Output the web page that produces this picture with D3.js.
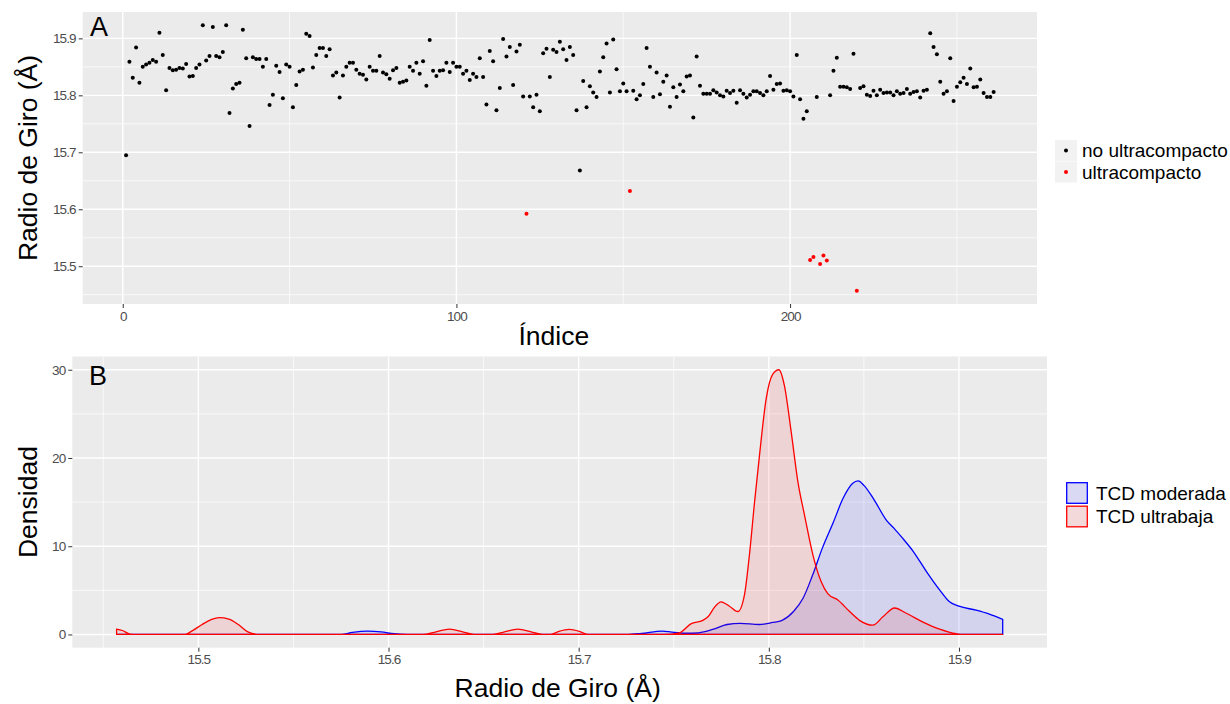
<!DOCTYPE html>
<html>
<head>
<meta charset="utf-8">
<script src="https://cdn.jsdelivr.net/npm/d3@7"></script>
<style>
  body { margin: 0; background: #fff; }
  svg { font-family: "Liberation Sans", Arial, sans-serif; }
</style>
</head>
<body>
<script>
// Radio de giro por frame (indice 1..261)
const radio = [
  15.695, 15.859, 15.831, 15.884, 15.822, 15.850, 15.854, 15.857, 15.862, 15.859,
  15.910, 15.871, 15.809, 15.848, 15.844, 15.845, 15.848, 15.847, 15.855, 15.833,
  15.834, 15.848, 15.854, 15.923, 15.861, 15.869, 15.920, 15.869, 15.867, 15.876,
  15.923, 15.769, 15.812, 15.820, 15.822, 15.915, 15.865, 15.746, 15.867, 15.864,
  15.864, 15.850, 15.864, 15.783, 15.801, 15.852, 15.841, 15.795, 15.854, 15.850,
  15.779, 15.818, 15.842, 15.845, 15.908, 15.904, 15.849, 15.871, 15.883, 15.883,
  15.869, 15.881, 15.835, 15.840, 15.796, 15.835, 15.850, 15.857, 15.857, 15.845,
  15.838, 15.836, 15.828, 15.850, 15.843, 15.843, 15.869, 15.840, 15.837, 15.829,
  15.844, 15.848, 15.822, 15.824, 15.826, 15.850, 15.843, 15.857, 15.838, 15.860,
  15.817, 15.897, 15.843, 15.834, 15.843, 15.844, 15.857, 15.841, 15.857, 15.850,
  15.850, 15.838, 15.843, 15.827, 15.838, 15.832, 15.865, 15.832, 15.784, 15.878,
  15.860, 15.774, 15.813, 15.899, 15.868, 15.885, 15.818, 15.877, 15.889, 15.798,
  15.592, 15.798, 15.779, 15.801, 15.772, 15.874, 15.882, 15.832, 15.880, 15.876,
  15.894, 15.881, 15.862, 15.885, 15.871, 15.774, 15.668, 15.825, 15.779, 15.816,
  15.805, 15.797, 15.842, 15.867, 15.891, 15.805, 15.898, 15.846, 15.807, 15.821,
  15.807, 15.632, 15.808, 15.793, 15.800, 15.820, 15.883, 15.850, 15.797, 15.840,
  15.802, 15.824, 15.835, 15.780, 15.814, 15.797, 15.819, 15.807, 15.833, 15.835,
  15.761, 15.868, 15.817, 15.803, 15.803, 15.803, 15.809, 15.805, 15.800, 15.798,
  15.808, 15.804, 15.808, 15.787, 15.809, 15.803, 15.796, 15.801, 15.807, 15.807,
  15.804, 15.800, 15.807, 15.834, 15.810, 15.820, 15.821, 15.808, 15.809, 15.807,
  15.798, 15.871, 15.793, 15.759, 15.772, 15.511, 15.516, 15.797, 15.504, 15.519,
  15.510, 15.800, 15.843, 15.866, 15.815, 15.815, 15.814, 15.811, 15.873, 15.457,
  15.813, 15.816, 15.801, 15.799, 15.808, 15.800, 15.810, 15.804, 15.805, 15.805,
  15.800, 15.807, 15.803, 15.804, 15.811, 15.803, 15.806, 15.807, 15.796, 15.808,
  15.810, 15.909, 15.885, 15.872, 15.824, 15.803, 15.807, 15.865, 15.790, 15.815,
  15.823, 15.831, 15.820, 15.847, 15.814, 15.815, 15.828, 15.804, 15.797, 15.797,
  15.806
];
// indices marcados como ultracompactos
const ultraIdx = [121, 152, 206, 207, 209, 210, 211, 220];
const claseNombres = ["no ultracompacto", "ultracompacto"];
const claseColores = ["#000000", "#ff0000"];

// curvas de densidad
const densModX = [15.457, 15.575, 15.581, 15.589, 15.596, 15.603, 15.610, 15.725, 15.733, 15.744,
  15.749, 15.756, 15.763, 15.771, 15.778, 15.785, 15.795, 15.802, 15.807, 15.813,
  15.818, 15.823, 15.828, 15.834, 15.839, 15.844, 15.847, 15.850, 15.855, 15.862,
  15.866, 15.870, 15.876, 15.883, 15.890, 15.895, 15.900, 15.909, 15.916, 15.923];
const densModY = [0, 0, 0.23, 0.38, 0.30, 0.08, 0, 0, 0.12, 0.38,
  0.26, 0.15, 0.19, 0.60, 1.13, 1.25, 1.13, 1.36, 1.60, 2.60,
  4.10, 6.70, 9.70, 12.75, 15.40, 17.10, 17.40, 16.90, 15.40, 12.90,
  12.0, 11.0, 9.40, 7.10, 5.00, 3.70, 3.20, 2.75, 2.30, 1.70];

const densUltX = [15.457, 15.460, 15.464, 15.468, 15.493, 15.4965, 15.502, 15.507, 15.511, 15.516,
  15.521, 15.526, 15.532, 15.618, 15.625, 15.632, 15.639, 15.645, 15.655, 15.661,
  15.668, 15.675, 15.681, 15.685, 15.689, 15.695, 15.701, 15.705, 15.745, 15.753,
  15.759, 15.7653, 15.768, 15.7715, 15.7749, 15.7793, 15.7837, 15.7872, 15.7898, 15.7925,
  15.7951, 15.7986, 15.8021, 15.8053, 15.8082, 15.8118, 15.8153, 15.8188, 15.8232, 15.8275,
  15.8311, 15.8363, 15.8425, 15.8477, 15.8547, 15.8600, 15.8661, 15.8723, 15.8811, 15.8898,
  15.8986, 15.9021, 15.923];
const densUltY = [0.6, 0.45, 0.05, 0, 0, 0.38, 1.13, 1.70, 1.90, 1.74,
  1.13, 0.30, 0, 0, 0.30, 0.60, 0.30, 0, 0, 0.30,
  0.60, 0.30, 0, 0, 0.30, 0.57, 0.30, 0, 0, 0.19,
  1.20, 1.60, 2.00, 3.10, 3.70, 3.20, 2.60, 4.50, 9.00, 15.00,
  20.30, 26.70, 29.50, 30.00, 28.20, 22.90, 17.30, 13.50, 9.00, 6.00,
  4.60, 3.90, 2.60, 1.60, 1.05, 2.00, 3.00, 2.40, 1.40, 0.60,
  0.08, 0, 0];
const grupoNombres = ["TCD moderada", "TCD ultrabaja"];
const grupoColores = ["#0000ff", "#ff0000"];

const ticksA_x = [0, 100, 200];
const ticksA_y = [15.5, 15.6, 15.7, 15.8, 15.9];
const ticksB_x = [15.5, 15.6, 15.7, 15.8, 15.9];
const ticksB_y = [0, 10, 20, 30];

const W = 1230, H = 704;
const panelBg = "#ebebeb";
const titleSize = 26.5;
const legendSize = 19;

const svg = d3.select("body").append("svg")
  .attr("width", W)
  .attr("height", H);

// ggplot style 5% expansion
function expand(ext, f = 0.05) {
  const d = (ext[1] - ext[0]) * f;
  return [ext[0] - d, ext[1] + d];
}

// draw a gray panel with white grid and the two axes
function panel(x, y, majX, minX, majY, minY, box) {
  svg.append("rect")
    .attr("x", box.l).attr("y", box.t)
    .attr("width", box.r - box.l).attr("height", box.b - box.t)
    .attr("fill", panelBg);
  const g = svg.append("g");
  g.selectAll("line.minx").data(minX).enter().append("line")
    .attr("x1", d => x(d)).attr("x2", d => x(d))
    .attr("y1", box.t).attr("y2", box.b)
    .attr("stroke", "#fff").attr("stroke-width", 0.7);
  g.selectAll("line.miny").data(minY).enter().append("line")
    .attr("y1", d => y(d)).attr("y2", d => y(d))
    .attr("x1", box.l).attr("x2", box.r)
    .attr("stroke", "#fff").attr("stroke-width", 0.7);
  g.selectAll("line.majx").data(majX).enter().append("line")
    .attr("x1", d => x(d)).attr("x2", d => x(d))
    .attr("y1", box.t).attr("y2", box.b)
    .attr("stroke", "#fff").attr("stroke-width", 1.4);
  g.selectAll("line.majy").data(majY).enter().append("line")
    .attr("y1", d => y(d)).attr("y2", d => y(d))
    .attr("x1", box.l).attr("x2", box.r)
    .attr("stroke", "#fff").attr("stroke-width", 1.4);

  // axes
  const ax = svg.append("g").attr("transform", `translate(0,${box.b})`)
    .call(d3.axisBottom(x).tickValues(majX).tickSize(4).tickPadding(3).tickFormat(d3.format("")));
  const ay = svg.append("g").attr("transform", `translate(${box.l},0)`)
    .call(d3.axisLeft(y).tickValues(majY).tickSize(4).tickPadding(3).tickFormat(d3.format("")));
  [ax, ay].forEach(a => {
    a.select(".domain").remove();
    a.selectAll(".tick line").attr("stroke", "#333").attr("stroke-width", 1);
    a.selectAll(".tick text")
      .attr("fill", "#4d4d4d")
      .attr("font-size", 13.5)
      .attr("letter-spacing", -0.9)
      .attr("font-family", "Liberation Sans, Arial, sans-serif");
  });
}

// ---------- Panel A ----------
const boxA = {l: 82.7, r: 1037, t: 12, b: 304};
const idx = radio.map((d, i) => i + 1);
const xA = d3.scaleLinear().domain(expand(d3.extent(idx))).range([boxA.l, boxA.r]);
const yA = d3.scaleLinear().domain(expand(d3.extent(radio))).range([boxA.b, boxA.t]);

panel(xA, yA, ticksA_x, [50, 150, 250], ticksA_y, [15.45, 15.55, 15.65, 15.75, 15.85], boxA);

const puntos = radio.map((r, i) => ({i: i + 1, r: r, c: ultraIdx.includes(i + 1) ? 1 : 0}));
svg.append("g").selectAll("circle").data(puntos).enter().append("circle")
  .attr("cx", d => xA(d.i))
  .attr("cy", d => yA(d.r))
  .attr("r", 2)
  .attr("fill", d => claseColores[d.c]);

svg.append("text").text("A")
  .attr("x", 90).attr("y", 36)
  .attr("font-size", 27);

svg.append("text").text("Índice")
  .attr("x", (boxA.l + boxA.r) / 2 - 6).attr("y", 345)
  .attr("text-anchor", "middle").attr("font-size", titleSize);

svg.append("text").text("Radio de Giro (Å)")
  .attr("transform", `translate(37,${(boxA.t + boxA.b) / 2}) rotate(-90)`)
  .attr("text-anchor", "middle").attr("font-size", titleSize);

// legend A
const legA = svg.append("g").selectAll("g").data(claseNombres).enter().append("g")
  .attr("transform", (d, i) => `translate(1055,${140 + i * 21.5})`);
legA.append("rect").attr("width", 22).attr("height", 21).attr("fill", "#f2f2f2");
legA.append("circle").attr("cx", 11).attr("cy", 10.5).attr("r", 2)
  .attr("fill", (d, i) => claseColores[i]);
legA.append("text").text(d => d)
  .attr("x", 27).attr("y", 10.5).attr("dy", "0.35em")
  .attr("font-size", legendSize);

// ---------- Panel B ----------
const boxB = {l: 72.3, r: 1047, t: 356.5, b: 647.7};
const xB = d3.scaleLinear().domain(expand(d3.extent(radio))).range([boxB.l, boxB.r]);
const yB = d3.scaleLinear().domain(expand([0, d3.max(densUltY.concat(densModY))])).range([boxB.b, boxB.t]);

panel(xB, yB, ticksB_x, [15.45, 15.55, 15.65, 15.75, 15.85], ticksB_y, [5, 15, 25], boxB);

const area = d3.area()
  .x(d => xB(d[0]))
  .y0(yB(0))
  .y1(d => yB(d[1]))
  .curve(d3.curveMonotoneX);

const curvas = [
  d3.zip(densModX, densModY),
  d3.zip(densUltX, densUltY)
];

svg.append("g").selectAll("path").data(curvas).enter().append("path")
  .attr("d", d => area(d) + "Z")
  .attr("fill", (d, i) => grupoColores[i])
  .attr("fill-opacity", 0.1)
  .attr("stroke", (d, i) => grupoColores[i])
  .attr("stroke-width", 1.3)
  .attr("stroke-linejoin", "round");

svg.append("text").text("B")
  .attr("x", 89).attr("y", 384.5)
  .attr("font-size", 27);

svg.append("text").text("Radio de Giro (Å)")
  .attr("x", (boxB.l + boxB.r) / 2 - 2).attr("y", 697)
  .attr("text-anchor", "middle").attr("font-size", titleSize);

svg.append("text").text("Densidad")
  .attr("transform", `translate(37,${(boxB.t + boxB.b) / 2}) rotate(-90)`)
  .attr("text-anchor", "middle").attr("font-size", titleSize);

// legend B
const legB = svg.append("g").selectAll("g").data(grupoNombres).enter().append("g")
  .attr("transform", (d, i) => `translate(1066,${482 + i * 23.5})`);
legB.append("rect").attr("width", 22).attr("height", 22).attr("fill", "#f2f2f2");
legB.append("rect").attr("x", 0.7).attr("y", 0.7).attr("width", 20.6).attr("height", 20.6)
  .attr("fill", (d, i) => grupoColores[i]).attr("fill-opacity", 0.1)
  .attr("stroke", (d, i) => grupoColores[i]).attr("stroke-width", 1.3);
legB.append("text").text(d => d)
  .attr("x", 30).attr("y", 11).attr("dy", "0.35em")
  .attr("font-size", legendSize);
</script>
</body>
</html>
